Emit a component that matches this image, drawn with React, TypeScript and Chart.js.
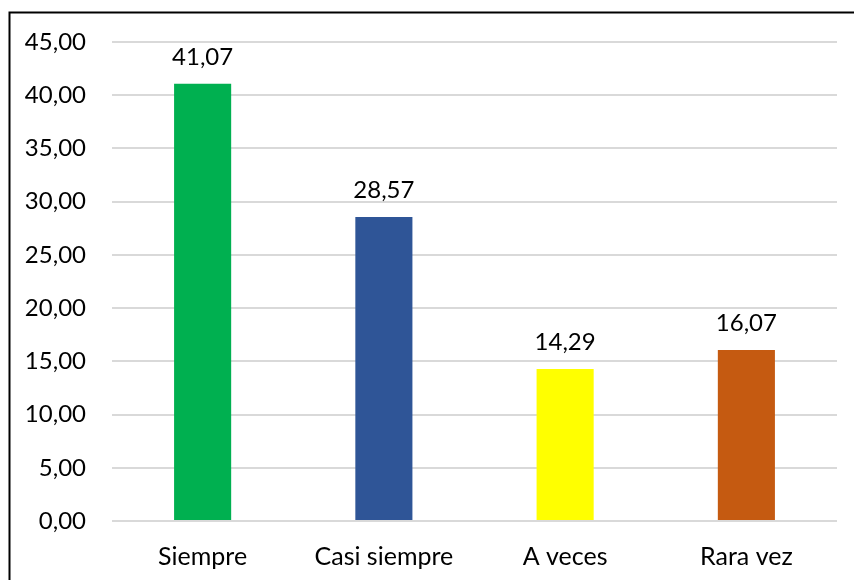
import React, { useEffect, useRef } from "react";
import { Chart, registerables } from "chart.js";

Chart.register(...registerables);

const categories = ["Siempre", "Casi siempre", "A veces", "Rara vez"];
const values = [41.07, 28.57, 14.29, 16.07];
const barColors = ["#00B050", "#2F5597", "#FFFF00", "#C55A11"];
const yMin = 0;
const yMax = 45;
const yStep = 5;

const FONT = "Lato";

const fmt = (v: number) => v.toFixed(2).replace(".", ",");

const borderPlugin = {
  id: "outerBorder",
  afterDraw(chart: any) {
    const ctx = chart.ctx;
    ctx.save();
    ctx.strokeStyle = "#000";
    ctx.lineWidth = 2;
    ctx.strokeRect(9.5, 12.5, 2000, 2000);
    ctx.restore();
  },
};

const labelPlugin = {
  id: "valueLabels",
  afterDatasetsDraw(chart: any) {
    const ctx = chart.ctx;
    const meta = chart.getDatasetMeta(0);
    ctx.save();
    ctx.font = `24px ${FONT}`;
    ctx.fillStyle = "#000";
    ctx.textAlign = "center";
    ctx.textBaseline = "alphabetic";
    meta.data.forEach((bar: any, i: number) => {
      ctx.fillText(fmt(values[i]), bar.x, bar.y - 19);
    });
    ctx.restore();
  },
};

export default function App() {
  const ref = useRef<HTMLCanvasElement | null>(null);
  useEffect(() => {
    if (!ref.current) return;
    const chart = new Chart(ref.current, {
      type: "bar",
      data: {
        labels: categories,
        datasets: [
          {
            data: values,
            backgroundColor: barColors,
            barPercentage: 0.315,
            categoryPercentage: 1,
          },
        ],
      },
      options: {
        animation: false,
        responsive: false,
        devicePixelRatio: 1,
        layout: { padding: { left: 0, top: 42, right: 17, bottom: 0 } },
        plugins: { legend: { display: false }, tooltip: { enabled: false } },
        scales: {
          x: {
            grid: { display: false, drawTicks: false },
            border: { display: false },
            ticks: {
              color: "#000",
              font: { family: FONT, size: 25 },
              padding: 21,
              maxRotation: 0,
            },
            afterFit(scale: any) {
              scale.height = 59;
            },
          },
          y: {
            min: yMin,
            max: yMax,
            grid: { color: "#D9D9D9", lineWidth: 2, drawTicks: false },
            border: { display: false },
            ticks: {
              stepSize: yStep,
              color: "#000",
              font: { family: FONT, size: 24 },
              padding: 26,
              callback: (v: any) => fmt(Number(v)),
            },
            afterFit(scale: any) {
              scale.width = 112;
            },
          },
        },
      },
      plugins: [labelPlugin, borderPlugin],
    });
    return () => chart.destroy();
  }, []);
  return (
    <div
      style={{
        position: "fixed",
        left: 0,
        top: 0,
        width: 854,
        height: 580,
        overflow: "hidden",
        background: "#fff",
      }}
    >
      <canvas ref={ref} width={854} height={580} style={{ display: "block" }} />
    </div>
  );
}
